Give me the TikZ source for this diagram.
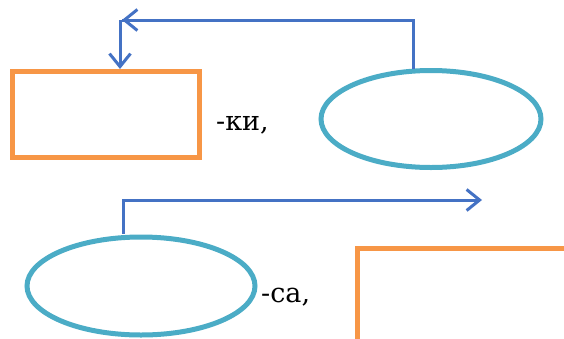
\documentclass[tikz,border=0pt]{standalone}
\usepackage{fontspec}
\setmainfont{DejaVu Serif}
\usetikzlibrary{arrows.meta,shapes.geometric}
\definecolor{boxorange}{HTML}{F79646}
\definecolor{elteal}{HTML}{4BACC6}
\definecolor{arrblue}{HTML}{4472C4}
\begin{document}
\begin{tikzpicture}[x=1pt,y=-1pt,
  box/.style={draw=boxorange,line width=5pt,fill=white},
  oval/.style={draw=elteal,line width=5pt,ellipse,fill=white},
  conn/.style={draw=arrblue,line width=3pt},
  barb/.style={-{Straight Barb[length=13pt,width=21pt,line width=3pt]}},
  lbl/.style={font=\fontsize{27}{30}\selectfont,inner sep=0pt,anchor=west}]
\useasboundingbox (0,0) rectangle (564,338);
\begin{scope}
\clip (0,0) rectangle (564,338);
\node[box,minimum width=187pt,minimum height=86pt,inner sep=0pt] (r1) at (105.5,114) {};
\node[oval,minimum width=220pt,minimum height=97pt,inner sep=0pt] (e1) at (431,119) {};
\node[oval,minimum width=228pt,minimum height=98pt,inner sep=0pt] (e2) at (141,286) {};
\path[box] (357,248) rectangle (600,360);
\coordinate (t1) at (413,20);
\coordinate (h1) at (122,20);
\coordinate (v1) at (120,20);
\coordinate (d1) at (120,69);
\coordinate (t2) at (123,200);
\coordinate (h2) at (482,200);
\draw[conn] ([yshift=-1pt]e1.north -| t1) -- (t1) -- (h1);
\draw[conn,barb] (t1) -- (h1);
\draw[conn,barb] (v1) -- (d1);
\draw[conn,barb] ([yshift=1pt]e2.north -| t2) -- (t2) -- (h2);
\end{scope}
\node[lbl] (k) at (216,125) {-ки,};
\node[lbl] (s) at (261,297) {-са,};
\end{tikzpicture}
\end{document}
